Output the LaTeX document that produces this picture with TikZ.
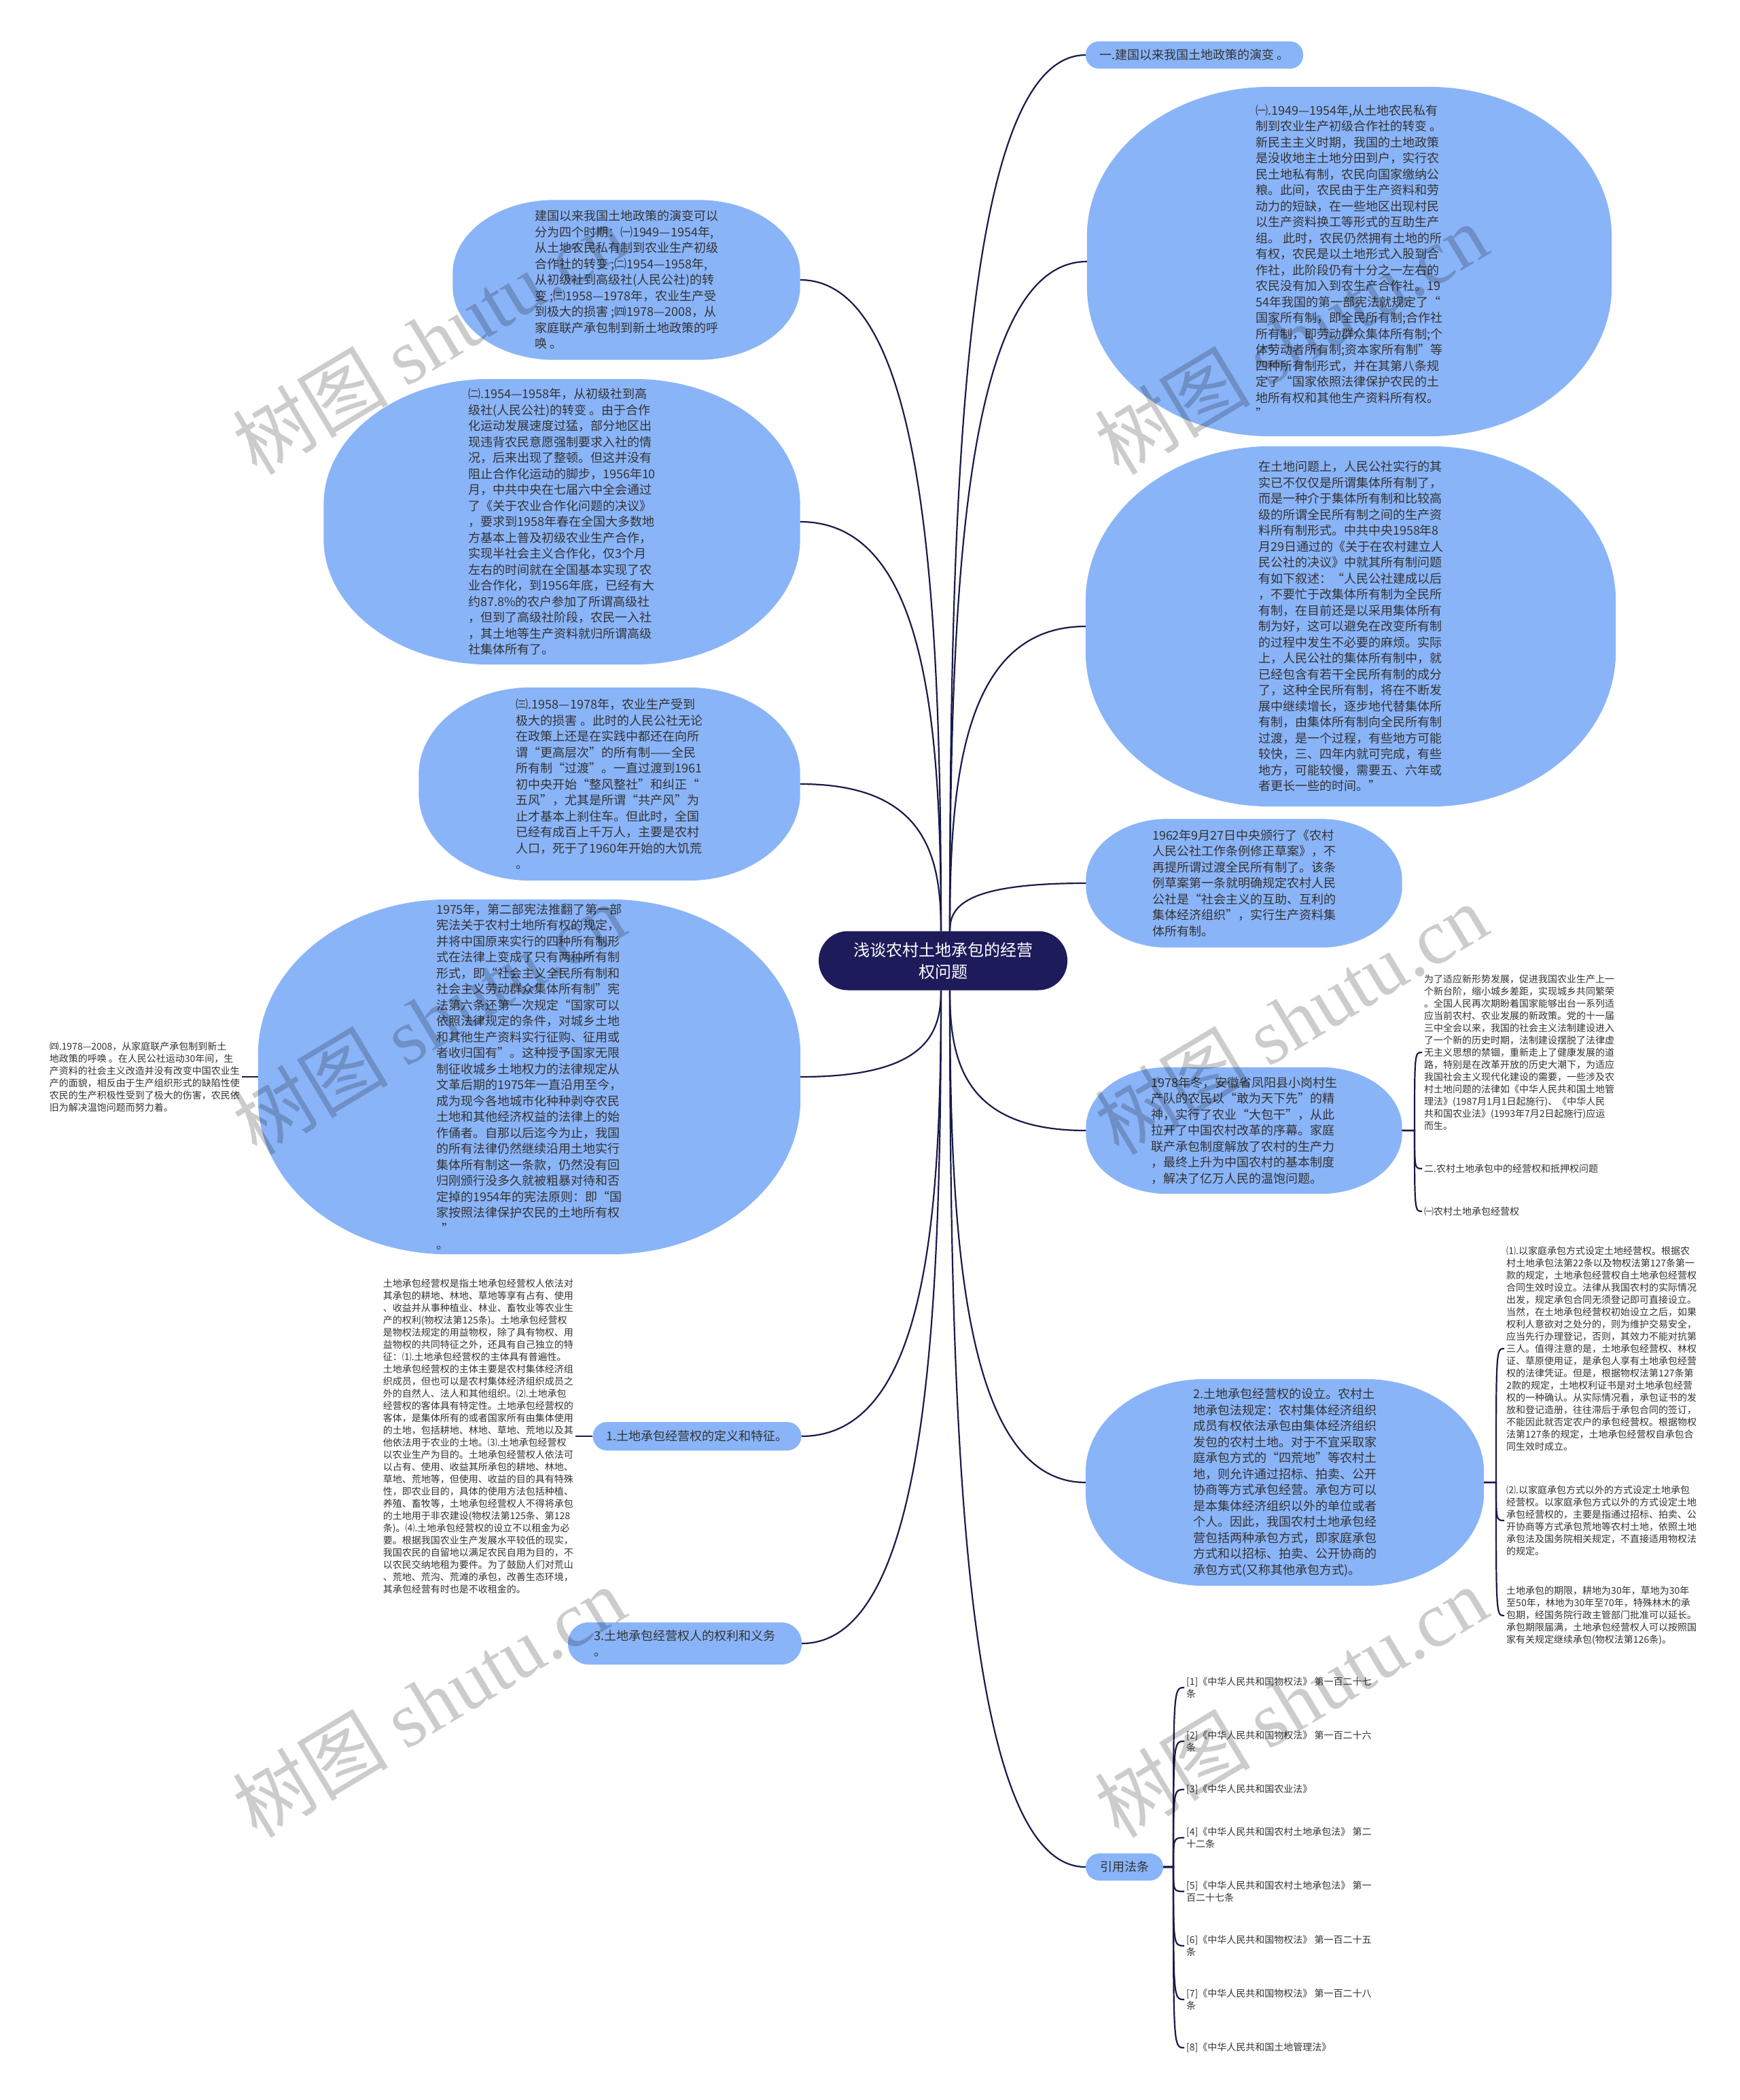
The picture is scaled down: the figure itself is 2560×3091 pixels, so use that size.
\documentclass[tikz,border=0pt]{standalone}
\usepackage{fontspec}
\setmainfont{Noto Sans CJK SC}
\newfontfamily\wmserif{Liberation Serif}
\definecolor{nodeblue}{HTML}{8AB4F8}
\definecolor{navy}{HTML}{1E1B5B}
\definecolor{linec}{HTML}{1A1A4A}
\definecolor{txt}{HTML}{333333}
\pgfdeclarelayer{background}
\pgfsetlayers{background,main}
\tikzset{
  bubble/.style={draw=none, inner sep=0pt, align=left, text=txt,
    font=\fontsize{18}{23.5}\selectfont},
  pill/.style={bubble, fill=nodeblue},
  plain/.style={inner sep=3pt, align=left, text=txt, font=\fontsize{14}{18}\selectfont},
  link/.style={draw=linec, line width=2.2pt},
  wm/.style={text=black, text opacity=0.2, rotate=31, anchor=base west, inner sep=0pt,
    font=\fontsize{115}{115}\selectfont},
}
% background shape with elliptical corners: node name, x radius, y radius
\newcommand\bubblebg[3]{%
  \begin{pgfonlayer}{background}
  \fill[nodeblue] ([yshift=#3]#1.south west) -- ([yshift=-#3]#1.north west)
    arc[start angle=180, end angle=90, x radius=#2, y radius=#3]
    -- ([xshift=-#2]#1.north east)
    arc[start angle=90, end angle=0, x radius=#2, y radius=#3]
    -- ([yshift=#3]#1.south east)
    arc[start angle=0, end angle=-90, x radius=#2, y radius=#3]
    -- ([xshift=#2]#1.south west)
    arc[start angle=270, end angle=180, x radius=#2, y radius=#3]
    -- cycle;
  \end{pgfonlayer}}
\begin{document}
\begin{tikzpicture}[x=1pt, y=-1pt]
\useasboundingbox (0,0) rectangle (2560,3091);
\begin{pgfonlayer}{background}
\fill[white] (0,0) rectangle (2560,3091);
\end{pgfonlayer}

% ---------- center ----------
\node[fill=navy, text=white, rounded corners=43pt, minimum width=366pt, minimum height=87pt,
  inner sep=0pt, align=center, font=\fontsize{24}{32}\selectfont] (ctr) at (1388,1414)
  {浅谈农村土地承包的经营\\权问题};

% ---------- right side ----------
\node[pill, rounded corners=19pt, minimum width=320pt, minimum height=40pt] (a) at (1758,81)
  {一.建国以来我国土地政策的演变 。};

\node[bubble, minimum width=772pt, minimum height=514pt] (r1) at (1986,385)
  {㈠.1949—1954年,从土地农民私有\\
   制到农业生产初级合作社的转变 。\\
   新民主主义时期，我国的土地政策\\
   是没收地主土地分田到户，实行农\\
   民土地私有制，农民向国家缴纳公\\
   粮。此间，农民由于生产资料和劳\\
   动力的短缺，在一些地区出现村民\\
   以生产资料换工等形式的互助生产\\
   组。 此时，农民仍然拥有土地的所\\
   有权，农民是以土地形式入股到合\\
   作社，此阶段仍有十分之一左右的\\
   农民没有加入到农生产合作社。19\\
   54年我国的第一部宪法就规定了“\\
   国家所有制，即全民所有制;合作社\\
   所有制，即劳动群众集体所有制;个\\
   体劳动者所有制;资本家所有制”等\\
   四种所有制形式，并在其第八条规\\
   定了“国家依照法律保护农民的土\\
   地所有权和其他生产资料所有权。\\
   ”};
\bubblebg{r1}{270pt}{220pt}

\node[bubble, minimum width=780pt, minimum height=530pt] (r2) at (1988,922)
  {在土地问题上，人民公社实行的其\\
   实已不仅仅是所谓集体所有制了，\\
   而是一种介于集体所有制和比较高\\
   级的所谓全民所有制之间的生产资\\
   料所有制形式。中共中央1958年8\\
   月29日通过的《关于在农村建立人\\
   民公社的决议》中就其所有制问题\\
   有如下叙述：“人民公社建成以后\\
   ，不要忙于改集体所有制为全民所\\
   有制，在目前还是以采用集体所有\\
   制为好，这可以避免在改变所有制\\
   的过程中发生不必要的麻烦。实际\\
   上，人民公社的集体所有制中，就\\
   已经包含有若干全民所有制的成分\\
   了，这种全民所有制，将在不断发\\
   展中继续增长，逐步地代替集体所\\
   有制，由集体所有制向全民所有制\\
   过渡，是一个过程，有些地方可能\\
   较快，三、四年内就可完成，有些\\
   地方，可能较慢，需要五、六年或\\
   者更长一些的时间。”};
\bubblebg{r2}{273pt}{228pt}

\node[bubble, minimum width=465pt, minimum height=189pt] (r3) at (1831,1300)
  {1962年9月27日中央颁行了《农村\\
   人民公社工作条例修正草案》，不\\
   再提所谓过渡全民所有制了。该条\\
   例草案第一条就明确规定农村人民\\
   公社是“社会主义的互助、互利的\\
   集体经济组织”，实行生产资料集\\
   体所有制。};
\bubblebg{r3}{120pt}{90pt}

\node[bubble, minimum width=465pt, minimum height=186pt] (r4) at (1831,1664)
  {1978年冬，安徽省凤阳县小岗村生\\
   产队的农民以“敢为天下先”的精\\
   神，实行了农业“大包干”，从此\\
   拉开了中国农村改革的序幕。家庭\\
   联产承包制度解放了农村的生产力\\
   ，最终上升为中国农村的基本制度\\
   ，解决了亿万人民的温饱问题。};
\bubblebg{r4}{120pt}{89pt}

\node[plain, anchor=west] (t1) at (2093,1549)
  {为了适应新形势发展，促进我国农业生产上一\\
   个新台阶，缩小城乡差距，实现城乡共同繁荣\\
   。全国人民再次期盼着国家能够出台一系列适\\
   应当前农村、农业发展的新政策。党的十一届\\
   三中全会以来，我国的社会主义法制建设进入\\
   了一个新的历史时期，法制建设摆脱了法律虚\\
   无主义思想的禁锢，重新走上了健康发展的道\\
   路，特别是在改革开放的历史大潮下，为适应\\
   我国社会主义现代化建设的需要，一些涉及农\\
   村土地问题的法律如《中华人民共和国土地管\\
   理法》(1987月1月1日起施行)、《中华人民\\
   共和国农业法》(1993年7月2日起施行)应运\\
   而生。};
\node[plain, anchor=west] (t2) at (2093,1720) {二.农村土地承包中的经营权和抵押权问题};
\node[plain, anchor=west] (t3) at (2093,1783) {㈠农村土地承包经营权};

\node[bubble, minimum width=586pt, minimum height=304pt] (r5) at (1891,2182)
  {2.土地承包经营权的设立。农村土\\
   地承包法规定：农村集体经济组织\\
   成员有权依法承包由集体经济组织\\
   发包的农村土地。对于不宜采取家\\
   庭承包方式的“四荒地”等农村土\\
   地，则允许通过招标、拍卖、公开\\
   协商等方式承包经营。承包方可以\\
   是本集体经济组织以外的单位或者\\
   个人。因此，我国农村土地承包经\\
   营包括两种承包方式，即家庭承包\\
   方式和以招标、拍卖、公开协商的\\
   承包方式(又称其他承包方式)。};
\bubblebg{r5}{176pt}{137pt}

\node[plain, anchor=west] (c1) at (2214,1985)
  {⑴.以家庭承包方式设定土地经营权。根据农\\
   村土地承包法第22条以及物权法第127条第一\\
   款的规定，土地承包经营权自土地承包经营权\\
   合同生效时设立。法律从我国农村的实际情况\\
   出发，规定承包合同无须登记即可直接设立。\\
   当然，在土地承包经营权初始设立之后，如果\\
   权利人意欲对之处分的，则为维护交易安全，\\
   应当先行办理登记，否则，其效力不能对抗第\\
   三人。值得注意的是，土地承包经营权、林权\\
   证、草原使用证，是承包人享有土地承包经营\\
   权的法律凭证。但是，根据物权法第127条第\\
   2款的规定，土地权利证书是对土地承包经营\\
   权的一种确认。从实际情况看，承包证书的发\\
   放和登记造册，往往滞后于承包合同的签订，\\
   不能因此就否定农户的承包经营权。根据物权\\
   法第127条的规定，土地承包经营权自承包合\\
   同生效时成立。};
\node[plain, anchor=west] (c2) at (2214,2238)
  {⑵.以家庭承包方式以外的方式设定土地承包\\
   经营权。以家庭承包方式以外的方式设定土地\\
   承包经营权的，主要是指通过招标、拍卖、公\\
   开协商等方式承包荒地等农村土地，依照土地\\
   承包法及国务院相关规定，不直接适用物权法\\
   的规定。};
\node[plain, anchor=west] (c3) at (2214,2378)
  {土地承包的期限，耕地为30年，草地为30年\\
   至50年，林地为30年至70年，特殊林木的承\\
   包期，经国务院行政主管部门批准可以延长。\\
   承包期限届满，土地承包经营权人可以按照国\\
   家有关规定继续承包(物权法第126条)。};

\node[pill, rounded corners=20pt, minimum width=114pt, minimum height=40pt] (r6) at (1655,2748)
  {引用法条};
\node[plain, anchor=west] (f1) at (1743,2484) {[1]《中华人民共和国物权法》 第一百二十七\\条};
\node[plain, anchor=west] (f2) at (1743,2563) {[2]《中华人民共和国物权法》 第一百二十六\\条};
\node[plain, anchor=west] (f3) at (1743,2634) {[3]《中华人民共和国农业法》};
\node[plain, anchor=west] (f4) at (1743,2705) {[4]《中华人民共和国农村土地承包法》 第二\\十二条};
\node[plain, anchor=west] (f5) at (1743,2784) {[5]《中华人民共和国农村土地承包法》 第一\\百二十七条};
\node[plain, anchor=west] (f6) at (1743,2864) {[6]《中华人民共和国物权法》 第一百二十五\\条};
\node[plain, anchor=west] (f7) at (1743,2943) {[7]《中华人民共和国物权法》 第一百二十八\\条};
\node[plain, anchor=west] (f8) at (1743,3014) {[8]《中华人民共和国土地管理法》};

% ---------- left side ----------
\node[bubble, minimum width=511pt, minimum height=235pt] (l1) at (922,412)
  {建国以来我国土地政策的演变可以\\
   分为四个时期：㈠1949—1954年,\\
   从土地农民私有制到农业生产初级\\
   合作社的转变 ;㈡1954—1958年,\\
   从初级社到高级社(人民公社)的转\\
   变 ;㈢1958—1978年，农业生产受\\
   到极大的损害 ;㈣1978—2008，从\\
   家庭联产承包制到新土地政策的呼\\
   唤 。};
\bubblebg{l1}{150pt}{108pt}

\node[bubble, minimum width=701pt, minimum height=420pt] (l2) at (827,768)
  {㈡.1954—1958年，从初级社到高\\
   级社(人民公社)的转变 。由于合作\\
   化运动发展速度过猛，部分地区出\\
   现违背农民意愿强制要求入社的情\\
   况，后来出现了整顿。但这并没有\\
   阻止合作化运动的脚步，1956年10\\
   月，中共中央在七届六中全会通过\\
   了《关于农业合作化问题的决议》\\
   ，要求到1958年春在全国大多数地\\
   方基本上普及初级农业生产合作，\\
   实现半社会主义合作化，仅3个月\\
   左右的时间就在全国基本实现了农\\
   业合作化，到1956年底，已经有大\\
   约87.8\%的农户参加了所谓高级社\\
   ，但到了高级社阶段，农民一入社\\
   ，其土地等生产资料就归所谓高级\\
   社集体所有了。};
\bubblebg{l2}{245pt}{185pt}

\node[bubble, minimum width=561pt, minimum height=284pt] (l3) at (897,1154)
  {㈢.1958—1978年，农业生产受到\\
   极大的损害 。此时的人民公社无论\\
   在政策上还是在实践中都还在向所\\
   谓“更高层次”的所有制——全民\\
   所有制“过渡”。一直过渡到1961\\
   初中央开始“整风整社”和纠正“\\
   五风”，尤其是所谓“共产风”为\\
   止才基本上刹住车。但此时，全国\\
   已经有成百上千万人，主要是农村\\
   人口，死于了1960年开始的大饥荒\\
   。};
\bubblebg{l3}{165pt}{128pt}

\node[bubble, minimum width=798pt, minimum height=522pt] (l4) at (779,1585)
  {1975年，第二部宪法推翻了第一部\\
   宪法关于农村土地所有权的规定，\\
   并将中国原来实行的四种所有制形\\
   式在法律上变成了只有两种所有制\\
   形式，即“社会主义全民所有制和\\
   社会主义劳动群众集体所有制”宪\\
   法第六条还第一次规定“国家可以\\
   依照法律规定的条件，对城乡土地\\
   和其他生产资料实行征购、征用或\\
   者收归国有”。这种授予国家无限\\
   制征收城乡土地权力的法律规定从\\
   文革后期的1975年一直沿用至今，\\
   成为现今各地城市化种种剥夺农民\\
   土地和其他经济权益的法律上的始\\
   作俑者。自那以后迄今为止，我国\\
   的所有法律仍然继续沿用土地实行\\
   集体所有制这一条款，仍然没有回\\
   归刚颁行没多久就被粗暴对待和否\\
   定掉的1954年的宪法原则：即“国\\
   家按照法律保护农民的土地所有权\\
   \ \ ”\\
   。};
\bubblebg{l4}{280pt}{228pt}

\node[plain, anchor=east] (d4) at (356,1585)
  {㈣.1978—2008，从家庭联产承包制到新土\\
   地政策的呼唤 。在人民公社运动30年间，生\\
   产资料的社会主义改造并没有改变中国农业生\\
   产的面貌，相反由于生产组织形式的缺陷性使\\
   农民的生产积极性受到了极大的伤害，农民依\\
   旧为解决温饱问题而努力着。};

\node[pill, rounded corners=21pt, minimum width=307pt, minimum height=42pt] (l5) at (1026,2114)
  {1.土地承包经营权的定义和特征。};

\node[plain, anchor=east] (d5) at (847,2114)
  {土地承包经营权是指土地承包经营权人依法对\\
   其承包的耕地、林地、草地等享有占有、使用\\
   、收益并从事种植业、林业、畜牧业等农业生\\
   产的权利(物权法第125条)。土地承包经营权\\
   是物权法规定的用益物权，除了具有物权、用\\
   益物权的共同特征之外，还具有自己独立的特\\
   征：⑴.土地承包经营权的主体具有普遍性。\\
   土地承包经营权的主体主要是农村集体经济组\\
   织成员，但也可以是农村集体经济组织成员之\\
   外的自然人、法人和其他组织。⑵.土地承包\\
   经营权的客体具有特定性。土地承包经营权的\\
   客体，是集体所有的或者国家所有由集体使用\\
   的土地，包括耕地、林地、草地、荒地以及其\\
   他依法用于农业的土地。⑶.土地承包经营权\\
   以农业生产为目的。土地承包经营权人依法可\\
   以占有、使用、收益其所承包的耕地、林地、\\
   草地、荒地等，但使用、收益的目的具有特殊\\
   性，即农业目的，具体的使用方法包括种植、\\
   养殖、畜牧等，土地承包经营权人不得将承包\\
   的土地用于非农建设(物权法第125条、第128\\
   条)。⑷.土地承包经营权的设立不以租金为必\\
   要。根据我国农业生产发展水平较低的现实，\\
   我国农民的自留地以满足农民自用为目的，不\\
   以农民交纳地租为要件。为了鼓励人们对荒山\\
   、荒地、荒沟、荒滩的承包，改善生态环境，\\
   其承包经营有时也是不收租金的。};

\node[pill, rounded corners=30pt, minimum width=344pt, minimum height=62pt] (l6) at (1008,2419)
  {3.土地承包经营权人的权利和义务\\。};

% ---------- connectors from center ----------
\draw[link] ([xshift=10pt]ctr.north) .. controls (1398,726) and (1418,81) .. (a.west);
\draw[link] ([xshift=10pt]ctr.north) .. controls (1398,878) and (1418,385) .. (r1.west);
\draw[link] ([xshift=10pt]ctr.north) .. controls (1398,1146) and (1418,922) .. (r2.west);
\draw[link] ([xshift=10pt]ctr.north) .. controls (1398,1335) and (1418,1300) .. (r3.west);
\draw[link] ([xshift=10pt]ctr.south) .. controls (1398,1561) and (1418,1664) .. (r4.west);
\draw[link] ([xshift=10pt]ctr.south) .. controls (1398,1820) and (1418,2182) .. (r5.west);
\draw[link] ([xshift=10pt]ctr.south) .. controls (1398,2103) and (1418,2748) .. (r6.west);
\draw[link] ([xshift=-3pt]ctr.north) .. controls (1385,891) and (1363,412) .. (l1.east);
\draw[link] ([xshift=-3pt]ctr.north) .. controls (1385,1069) and (1364,768) .. (l2.east);
\draw[link] ([xshift=-3pt]ctr.north) .. controls (1385,1262) and (1364,1154) .. (l3.east);
\draw[link] ([xshift=-3pt]ctr.south) .. controls (1385,1521) and (1364,1585) .. (l4.east);
\draw[link] ([xshift=-3pt]ctr.south) .. controls (1385,1786) and (1365,2114) .. (l5.east);
\draw[link] ([xshift=-3pt]ctr.south) .. controls (1385,1938) and (1365,2419) .. (l6.east);

% ---------- sub connectors ----------
\draw[link] (l4.west) -- (d4.east);
\draw[link] (l5.west) -- (d5.east);
\foreach \c/\y in {t1/1549, t2/1720, t3/1783}
  \draw[link] (r4.east) -- (2082,1664) .. controls (2082,\y) and (2082,\y) .. (\c.west);
\foreach \c/\y in {c1/1985, c2/2238, c3/2378}
  \draw[link] (r5.east) -- (2202,2182) .. controls (2202,\y) and (2202,\y) .. (\c.west);
\foreach \c/\y in {f1/2484, f2/2563, f3/2634, f4/2705, f5/2784, f6/2864, f7/2943, f8/3014}
  \draw[link] (r6.east) -- (1727,2748) .. controls (1727,\y) and (1727,\y) .. (\c.west);

% ---------- watermarks ----------
\node[wm] (w1) at (378,702) {树图 {\wmserif shutu.cn}};
\node[wm] (w2) at (1647,702) {树图 {\wmserif shutu.cn}};
\node[wm] (w3) at (378,1703) {树图 {\wmserif shutu.cn}};
\node[wm] (w4) at (1647,1703) {树图 {\wmserif shutu.cn}};
\node[wm] (w5) at (378,2708) {树图 {\wmserif shutu.cn}};
\node[wm] (w6) at (1647,2708) {树图 {\wmserif shutu.cn}};
\end{tikzpicture}
\end{document}
